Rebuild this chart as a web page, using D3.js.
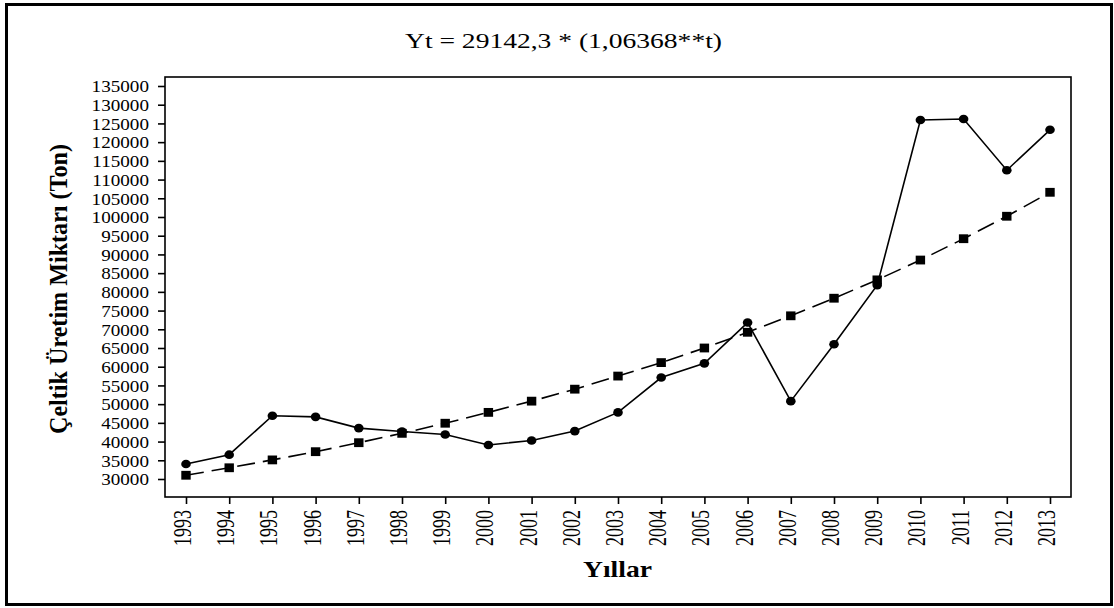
<!DOCTYPE html>
<html>
<head>
<meta charset="utf-8">
<script src="https://cdn.jsdelivr.net/npm/d3@7"></script>
<style>
  html, body { margin: 0; padding: 0; background: #fff; }
  svg { display: block; }
  svg text { font-family: "Liberation Serif", "Times New Roman", Times, serif !important; fill: #000; }
</style>
</head>
<body>
<svg id="chart" width="1114" height="608"></svg>
<script>
// ---- data ----
const years = [1993, 1994, 1995, 1996, 1997, 1998, 1999, 2000, 2001, 2002, 2003,
               2004, 2005, 2006, 2007, 2008, 2009, 2010, 2011, 2012, 2013];
const actual = [34000, 36500, 46900, 46600, 43600, 42700, 41900, 39100, 40300, 42800, 47800,
                57100, 60900, 71800, 50800, 66000, 81800, 125900, 126200, 112500, 123300];
const trend = [31000, 33000, 35100, 37300, 39700, 42200, 44900, 47800, 50800, 54000, 57500,
               61100, 65000, 69200, 73600, 78300, 83200, 88500, 94200, 100200, 106600];
const yTicks = [30000, 35000, 40000, 45000, 50000, 55000, 60000, 65000, 70000, 75000, 80000,
                85000, 90000, 95000, 100000, 105000, 110000, 115000, 120000, 125000, 130000, 135000];
const titleText = "Yt = 29142,3 * (1,06368**t)";
const yLabel = "Çeltik Üretim Miktarı (Ton)";
const xLabel = "Yıllar";

// ---- layout ----
const svg = d3.select("#chart");
const frame = {left: 165, top: 77, right: 1071, bottom: 497};

const x = d3.scalePoint().domain(years).range([186, 1050]);
const y = d3.scaleLinear().domain([30000, 135000]).range([479, 86]);

// outer border
svg.append("rect")
  .attr("x", 6.5).attr("y", 4.5).attr("width", 1105).attr("height", 600)
  .attr("fill", "none").attr("stroke", "#000").attr("stroke-width", 3);

// plot frame
svg.append("rect")
  .attr("x", frame.left).attr("y", frame.top)
  .attr("width", frame.right - frame.left).attr("height", frame.bottom - frame.top)
  .attr("fill", "none").attr("stroke", "#000").attr("stroke-width", 1.6);

// y axis
const yAxis = svg.append("g")
  .attr("transform", `translate(${frame.left},0)`)
  .call(d3.axisLeft(y).tickValues(yTicks).tickSize(7).tickPadding(0).tickFormat(d => String(d)));
yAxis.attr("font-family", null);
yAxis.select(".domain").remove();
yAxis.selectAll(".tick line").attr("stroke", "#000").attr("stroke-width", 1.6);
yAxis.selectAll(".tick text")
  .attr("x", null).attr("dy", null)
  .attr("font-size", 16.5)
  .attr("text-anchor", "end")
  .attr("transform", "translate(-16,5.8) scale(1.16,1)");

// x axis
const xAxis = svg.append("g")
  .attr("transform", `translate(0,${frame.bottom})`)
  .call(d3.axisBottom(x).tickSize(7).tickPadding(0).tickFormat(d => String(d)));
xAxis.attr("font-family", null);
xAxis.select(".domain").remove();
xAxis.selectAll(".tick line").attr("stroke", "#000").attr("stroke-width", 1.6);
xAxis.selectAll(".tick text")
  .attr("y", null).attr("dy", null)
  .attr("font-size", 18)
  .attr("text-anchor", "end")
  .attr("transform", "translate(4.5,13) rotate(-90) scale(1,1.45)");

// lines
const pts = (arr) => years.map((yr, i) => [x(yr), y(arr[i])]);
const line = d3.line();

svg.append("path")
  .attr("d", line(pts(trend)))
  .attr("fill", "none").attr("stroke", "#000").attr("stroke-width", 1.6)
  .attr("stroke-dasharray", "18,8");

svg.append("path")
  .attr("d", line(pts(actual)))
  .attr("fill", "none").attr("stroke", "#000").attr("stroke-width", 1.6);

// markers
svg.append("g").selectAll("rect")
  .data(years.map((yr, i) => ({yr, v: trend[i]})))
  .join("rect")
  .attr("x", d => x(d.yr) - 4.7).attr("y", d => y(d.v) - 4.4)
  .attr("width", 9.4).attr("height", 8.8)
  .attr("fill", "#000");

svg.append("g").selectAll("ellipse")
  .data(years.map((yr, i) => ({yr, v: actual[i]})))
  .join("ellipse")
  .attr("cx", d => x(d.yr)).attr("cy", d => y(d.v))
  .attr("rx", 4.8).attr("ry", 4.3)
  .attr("fill", "#000");

// title
svg.append("text")
  .attr("x", 563.5).attr("y", 48)
  .attr("text-anchor", "middle")
  .attr("font-size", 21.5)
  .attr("textLength", 317).attr("lengthAdjust", "spacingAndGlyphs")
  .text(titleText);

// y label
svg.append("text")
  .attr("transform", "translate(67,289) rotate(-90)")
  .attr("text-anchor", "middle")
  .attr("font-size", 25.5)
  .attr("font-weight", "bold")
  .attr("textLength", 290).attr("lengthAdjust", "spacingAndGlyphs")
  .text(yLabel);

// x label
svg.append("text")
  .attr("x", 617.5).attr("y", 577)
  .attr("text-anchor", "middle")
  .attr("font-size", 23.5)
  .attr("font-weight", "bold")
  .attr("textLength", 69).attr("lengthAdjust", "spacingAndGlyphs")
  .text(xLabel);
</script>
</body>
</html>
